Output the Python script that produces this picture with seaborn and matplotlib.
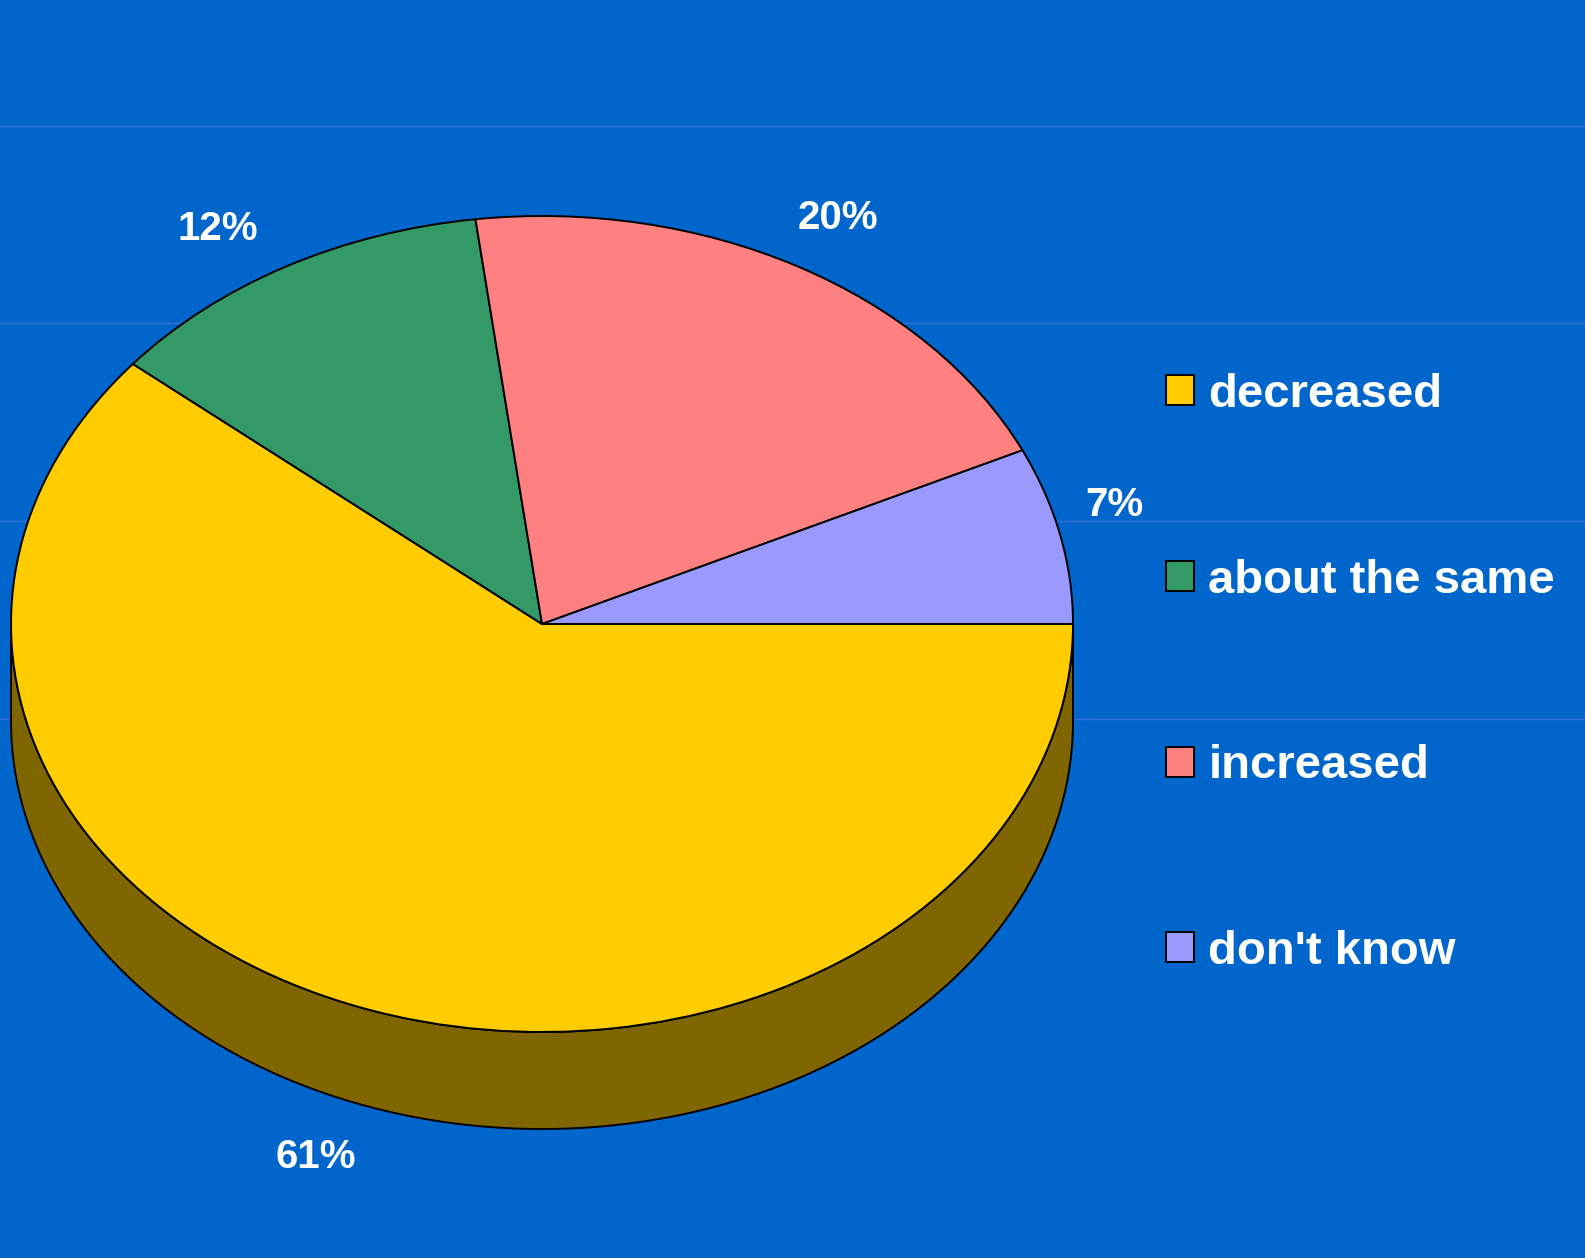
import numpy as np
import matplotlib
matplotlib.use("Agg")
import matplotlib.pyplot as plt
import seaborn as sns

# Survey answers and their shares (percent)
categories = ["decreased", "about the same", "increased", "don't know"]
shares = [61, 12, 20, 7]
face_colors = ["#FFCC00", "#339966", "#FF8080", "#9999FF"]

BG = "#0066CC"
GRID = "#3C6FD2"

sns.set_theme(style="white", rc={
    "figure.facecolor": BG,
    "axes.facecolor": BG,
})
plt.rcParams["font.family"] = ["Liberation Sans", "DejaVu Sans"]

palette = sns.color_palette(face_colors)
side_palette = [tuple(c * 0.5 for c in col) for col in palette]

W, H = 1585, 1258
fig = plt.figure(figsize=(W / 100, H / 100), dpi=100)
ax = fig.add_axes([0, 0, 1, 1])

# Tilted-disc geometry (pixels): centre, semi-axes and thickness
CX, CY = 542, 624
RX, RY = 531, 408
DEPTH = 97
d = DEPTH / RY

edge = dict(edgecolor="black", linewidth=1.4)

wedges, _ = ax.pie(shares, colors=palette, startangle=0, counterclock=False,
                   radius=1.0, center=(0, 0), wedgeprops=dict(**edge, zorder=2))

# Front wall of the disc: each slice's share of the lower half
for w, col in zip(wedges, side_palette):
    t1, t2 = w.theta1, w.theta2
    for k in (-2, -1, 0, 1):
        lo = max(t1, -180 + 360 * k)
        hi = min(t2, 0 + 360 * k)
        if hi > lo:
            th = np.radians(np.linspace(lo, hi, 200))
            xs = np.concatenate([np.cos(th), np.cos(th[::-1])])
            ys = np.concatenate([np.sin(th) - d, np.sin(th[::-1])])
            ax.fill(xs, ys, facecolor=col, zorder=1.5, **edge)

# Percentage labels just outside each slice (pixel nudges from the rim)
label_nudge = [(-46, -52), (-68, 37), (40, 48), (54, 30)]
for w, v, (ox, oy) in zip(wedges, shares, label_nudge):
    mid = np.radians((w.theta1 + w.theta2) / 2)
    c, s = np.cos(mid), np.sin(mid)
    anchor = (c, s - (d if s < 0 else 0))
    ax.annotate(f"{v}%", xy=anchor, xytext=(ox, oy), textcoords="offset pixels",
                ha="center", va="center", color="white", fontsize=29,
                fontweight="bold", zorder=5)

ax.set_xlim(-CX / RX, (W - CX) / RX)
ax.set_ylim(-(H - CY) / RY, CY / RY)
ax.set_aspect("auto")
ax.set_xticks([])
ax.set_yticks([])

# Background rules of the plot area
grid_px = [126, 323, 521, 719]
for p in grid_px:
    ax.axhline((CY - p) / RY, color=GRID, linewidth=1.0, zorder=0.5)

for sp in ax.spines.values():
    sp.set_visible(False)

ax.legend(wedges, categories, loc="center left",
          bbox_to_anchor=(1166 / W, 1 - 673.5 / H), bbox_transform=fig.transFigure,
          frameon=False, prop=dict(size=34, weight="bold"), labelcolor="white",
          handlelength=0.6, handleheight=0.6, handletextpad=0.3,
          labelspacing=3.0, borderpad=0, borderaxespad=0)

fig.savefig("out.png", dpi=100, facecolor=BG)
